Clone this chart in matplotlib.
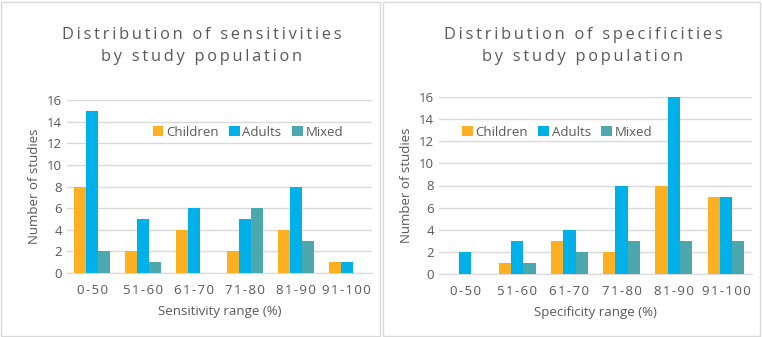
import numpy as np
import matplotlib.pyplot as plt
from matplotlib.patches import Rectangle

# data
ranges = ['0-50', '51-60', '61-70', '71-80', '81-90', '91-100']
groups = ['Children', 'Adults', 'Mixed']
sens_children = [8, 2, 4, 2, 4, 1]
sens_adults = [15, 5, 6, 5, 8, 1]
sens_mixed = [2, 1, 0, 6, 3, 0]
spec_children = [0, 1, 3, 2, 8, 7]
spec_adults = [2, 3, 4, 8, 16, 7]
spec_mixed = [0, 1, 2, 3, 3, 3]

colors = ['#FDB022', '#00B0E8', '#4AA8AE']
grey = '#595959'
grid = '#D9D9D9'

plt.rcParams['font.family'] = ['Open Sans', 'DejaVu Sans']

W, H = 762, 337
fig = plt.figure(figsize=(W / 100, H / 100), dpi=100)

# panel frames
for x0, x1 in [(1, 380), (383, 760)]:
    fig.patches.append(Rectangle((x0 / W, 1 / H), (x1 - x0) / W, (H - 3) / H,
                                 transform=fig.transFigure, fill=False,
                                 edgecolor=grid, linewidth=1))


def spaced(s, sep='\u2009'):
    # fake letter spacing
    return sep.join(s)


def draw(rect, series, title, xlabel, title_x, legend_anchor):
    ax = fig.add_axes(rect)
    x = np.arange(len(ranges))
    w = 0.235
    for i, (vals, name) in enumerate(zip(series, groups)):
        ax.bar(x + (i - 1) * w, vals, width=w, color=colors[i], label=name, zorder=3)
    ax.set_xlim(-0.5, len(ranges) - 0.5)
    ax.set_ylim(0, 16)
    ax.set_yticks(range(0, 17, 2))
    ax.set_xticks(x)
    ax.set_xticklabels([spaced(r, '\u200a') for r in ranges])
    ax.grid(axis='y', color=grid, linewidth=1, zorder=0)
    for s in ['top', 'right', 'left']:
        ax.spines[s].set_visible(False)
    ax.spines['bottom'].set_color(grid)
    ax.tick_params(length=0, colors=grey, labelsize=9.5)
    ax.tick_params(axis='x', pad=8)
    ax.set_xlabel(xlabel, color=grey, fontsize=9.5, labelpad=6)
    ax.set_ylabel('Number of studies', color=grey, fontsize=9.5, labelpad=4)
    ax.legend(loc='center', bbox_to_anchor=legend_anchor, ncol=3, frameon=False,
              fontsize=9.5, labelcolor=grey, handlelength=0.8, handleheight=0.8,
              handletextpad=0.2, columnspacing=0.8)
    fig.text(title_x / W, 1 - 46 / H, '\n'.join(spaced(t) for t in title),
             ha='center', va='center', color=grey, fontsize=11.8, linespacing=1.5)
    return ax


draw([67 / W, 1 - 273 / H, 305 / W, 173 / H],
     [sens_children, sens_adults, sens_mixed],
     ['Distribution of sensitivities', 'by study population'],
     'Sensitivity range (%)', 202, (0.593, 0.815))
draw([439 / W, 1 - 274 / H, 313 / W, 177 / H],
     [spec_children, spec_adults, spec_mixed],
     ['Distribution of specificities', 'by study population'],
     'Specificity range (%)', 583, (0.377, 0.80))

fig.savefig('out.png', dpi=100)
